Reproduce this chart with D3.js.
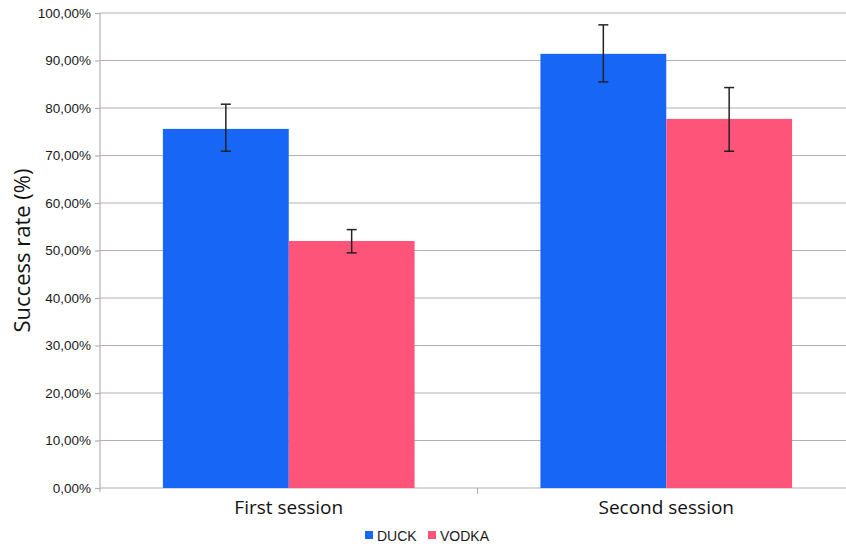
<!DOCTYPE html>
<html><head><meta charset="utf-8">
<script src="https://cdn.jsdelivr.net/npm/d3@7"></script>
<style>html,body{margin:0;padding:0;background:#fff;overflow:hidden}</style>
</head><body><svg id="c" width="846" height="546"></svg>
<script>
const categories = ["First session", "Second session"];
const seriesNames = ["DUCK", "VODKA"];
const duckValues = [75.6, 91.4];
const duckErrLow = [70.9, 85.5];
const duckErrHigh = [80.8, 97.5];
const vodkaValues = [52.0, 77.7];
const vodkaErrLow = [49.5, 70.9];
const vodkaErrHigh = [54.4, 84.3];
const yTicks = [0,10,20,30,40,50,60,70,80,90,100];
const colors = ["#1766f6", "#ff5479"];

const svg = d3.select("#c");
const L = 100, R = 855, T = 13, B = 488;
const x0 = d3.scaleBand().domain(categories).range([L, R]).paddingInner(0).paddingOuter(0);
const x1 = d3.scaleBand().domain(seriesNames).range([0, x0.bandwidth()]).paddingInner(0).paddingOuter(0.5);
const y = d3.scaleLinear().domain([0, 100]).range([B, T]);

// grid
svg.append("g").selectAll("line").data(yTicks).join("line")
  .attr("x1", L).attr("x2", R).attr("y1", d => y(d)).attr("y2", d => y(d))
  .attr("stroke", "#b8b0ad").attr("stroke-width", 1.2);

// y axis
const yAxis = d3.axisLeft(y).tickValues(yTicks).tickSize(5).tickPadding(4)
  .tickFormat(d => d3.format(".2f")(d).replace(".", ",") + "%");
const gy = svg.append("g").attr("transform", `translate(${L},0)`).call(yAxis);
gy.select(".domain").attr("stroke", "#b8b0ad").attr("stroke-width", 1.2).attr("d", `M0,${T}V${B+4}`);
gy.selectAll(".tick line").attr("stroke", "#b8b0ad").attr("stroke-width", 1.2);
gy.selectAll(".tick text").attr("font-family", "Liberation Sans, Arial, sans-serif").attr("font-size", 13.5).attr("fill", "#1a1a1a");

// bars
const data = categories.map((c, i) => ({
  cat: c,
  items: [
    {s: seriesNames[0], v: duckValues[i], lo: duckErrLow[i], hi: duckErrHigh[i], c: colors[0]},
    {s: seriesNames[1], v: vodkaValues[i], lo: vodkaErrLow[i], hi: vodkaErrHigh[i], c: colors[1]}
  ]
}));
const g = svg.append("g").selectAll("g").data(data).join("g")
  .attr("transform", d => `translate(${x0(d.cat)},0)`);
g.selectAll("rect").data(d => d.items).join("rect")
  .attr("x", d => x1(d.s)).attr("width", x1.bandwidth())
  .attr("y", d => y(d.v)).attr("height", d => y(0) - y(d.v))
  .attr("fill", d => d.c);

// error bars
const eb = g.selectAll("g.err").data(d => d.items).join("g").attr("class", "err")
  .attr("transform", d => `translate(${x1(d.s) + x1.bandwidth()/2},0)`);
eb.append("line").attr("x1", 0).attr("x2", 0).attr("y1", d => y(d.hi)).attr("y2", d => y(d.lo)).attr("stroke", "#222").attr("stroke-width", 1.5);
eb.append("line").attr("x1", -5).attr("x2", 5).attr("y1", d => y(d.hi)).attr("y2", d => y(d.hi)).attr("stroke", "#222").attr("stroke-width", 1.5);
eb.append("line").attr("x1", -5).attr("x2", 5).attr("y1", d => y(d.lo)).attr("y2", d => y(d.lo)).attr("stroke", "#222").attr("stroke-width", 1.5);

// x axis
const xAxis = d3.axisBottom(x0).tickSize(0).tickPadding(13);
const gx = svg.append("g").attr("transform", `translate(0,${B})`).call(xAxis);
gx.select(".domain").remove();
gx.selectAll(".tick text").attr("font-family", "Open Sans, sans-serif").attr("font-size", 19).attr("fill", "#111");
// category separator tick
svg.append("line").attr("x1", x0(categories[1])).attr("x2", x0(categories[1]))
  .attr("y1", B).attr("y2", B + 6).attr("stroke", "#b8b0ad").attr("stroke-width", 1.2);

// y label
svg.append("text").attr("transform", `translate(30,${(T+B)/2}) rotate(-90)`)
  .attr("text-anchor", "middle").attr("font-family", "Open Sans, sans-serif").attr("font-size", 22).attr("fill", "#111")
  .text("Success rate (%)");

// legend
const legX = [365, 428];
const lg = svg.append("g").selectAll("g").data(seriesNames).join("g")
  .attr("transform", (d, i) => `translate(${legX[i]},531)`);
lg.append("rect").attr("width", 8).attr("height", 8).attr("fill", (d, i) => colors[i]);
lg.append("text").attr("x", 12).attr("y", 9.5).attr("font-family", "Liberation Sans, Arial, sans-serif").attr("font-size", 14).attr("fill", "#1a1a1a").text(d => d);
</script></body></html>
